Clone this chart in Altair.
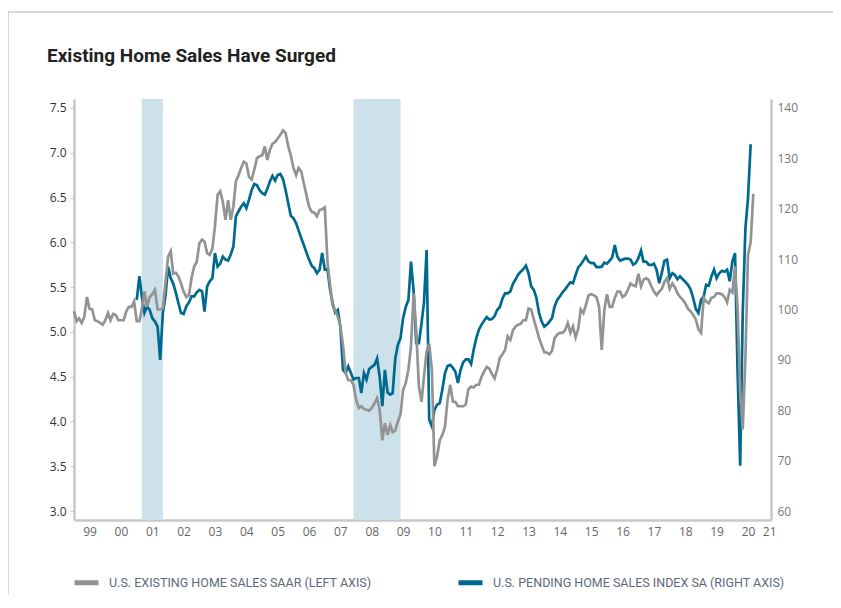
import altair as alt
import pandas as pd

EXISTING = "U.S. EXISTING HOME SALES SAAR (LEFT AXIS)"
PENDING = "U.S. PENDING HOME SALES INDEX SA (RIGHT AXIS)"
TITLE = "Existing Home Sales Have Surged"

# Existing home sales, SAAR, millions, monthly Jan-1999 .. Sep-2020
existing_sales = [
    5.23, 5.12, 5.15, 5.10, 5.17, 5.39, 5.26, 5.25, 5.13, 5.12, 5.10, 5.08,  # 1999
    5.13, 5.21, 5.13, 5.20, 5.19, 5.13, 5.13, 5.13, 5.23, 5.28, 5.28, 5.34,  # 2000
    5.12, 5.12, 5.25, 5.45, 5.28, 5.39, 5.42, 5.47, 5.25, 5.25, 5.26, 5.54,  # 2001
    5.84, 5.90, 5.65, 5.66, 5.62, 5.54, 5.45, 5.39, 5.41, 5.60, 5.73, 5.78,  # 2002
    5.99, 6.03, 6.01, 5.88, 5.86, 5.93, 6.18, 6.53, 6.57, 6.45, 6.25, 6.47,  # 2003
    6.25, 6.40, 6.68, 6.75, 6.83, 6.90, 6.88, 6.73, 6.70, 6.81, 6.94, 6.96,  # 2004
    6.97, 7.07, 6.92, 7.03, 7.10, 7.12, 7.16, 7.20, 7.25, 7.22, 7.07, 6.97,  # 2005
    6.83, 6.75, 6.83, 6.79, 6.66, 6.53, 6.40, 6.34, 6.33, 6.29, 6.36, 6.37,  # 2006
    6.39, 5.78, 5.54, 5.30, 5.24, 5.17, 5.06, 4.85, 4.54, 4.46, 4.46, 4.41,  # 2007
    4.24, 4.15, 4.17, 4.14, 4.13, 4.12, 4.15, 4.20, 4.26, 4.13, 3.79, 3.98,  # 2008
    3.85, 3.96, 3.88, 3.90, 4.00, 4.08, 4.35, 4.43, 4.58, 4.84, 5.43, 5.02,  # 2009
    4.39, 4.22, 4.50, 4.78, 4.87, 4.58, 3.50, 3.61, 3.79, 3.85, 3.94, 4.24,  # 2010
    4.41, 4.22, 4.22, 4.17, 4.17, 4.17, 4.19, 4.36, 4.39, 4.38, 4.41, 4.41,  # 2011
    4.50, 4.56, 4.61, 4.59, 4.53, 4.48, 4.58, 4.71, 4.75, 4.80, 4.95, 4.91,  # 2012
    5.02, 5.06, 5.08, 5.09, 5.13, 5.13, 5.26, 5.25, 5.14, 5.04, 4.93, 4.85,  # 2013
    4.77, 4.77, 4.75, 4.79, 4.93, 4.97, 4.99, 4.99, 5.02, 5.10, 4.99, 5.06,  # 2014
    4.94, 5.04, 5.25, 5.21, 5.30, 5.41, 5.42, 5.41, 5.39, 5.28, 4.80, 5.24,  # 2015
    5.42, 5.28, 5.28, 5.38, 5.45, 5.45, 5.39, 5.41, 5.47, 5.54, 5.52, 5.51,  # 2016
    5.65, 5.51, 5.58, 5.60, 5.58, 5.51, 5.45, 5.41, 5.45, 5.48, 5.56, 5.60,  # 2017
    5.48, 5.54, 5.50, 5.43, 5.39, 5.36, 5.32, 5.26, 5.23, 5.19, 5.14, 5.03,  # 2018
    4.99, 5.38, 5.34, 5.32, 5.38, 5.39, 5.43, 5.43, 5.42, 5.39, 5.33, 5.47,  # 2019
    5.44, 5.73, 5.28, 4.33, 3.91, 4.72, 5.86, 6.00, 6.54,                    # 2020
]

# Pending home sales index, SA, monthly Jan-2001 .. Aug-2020
pending_index = [
    101.9, 106.6, 102.6, 99.3, 100.6, 99.9, 98.3, 97.6, 96.6, 90.0, 99.3, 102.6,          # 2001
    108.5, 106.2, 105.2, 103.4, 101.3, 99.3, 99.1, 100.6, 101.4, 102.6, 102.6, 103.4,     # 2002
    103.9, 103.6, 99.6, 104.6, 105.6, 106.2, 111.2, 108.5, 109.1, 110.5, 109.9, 109.7,    # 2003
    110.9, 112.5, 118.5, 119.5, 120.4, 121.1, 120.1, 121.8, 123.7, 124.9, 124.7, 123.7,   # 2004
    123.1, 122.8, 123.9, 125.4, 126.5, 125.6, 126.7, 126.9, 125.9, 123.7, 121.1, 118.6,   # 2005
    118.1, 117.1, 115.7, 114.2, 112.8, 111.3, 109.9, 108.7, 108.2, 107.2, 107.9, 111.2,   # 2006
    107.9, 108.0, 104.2, 101.3, 99.4, 99.9, 96.6, 88.0, 87.4, 88.7, 87.4, 86.1,           # 2007
    86.4, 86.4, 83.4, 87.4, 86.1, 88.2, 88.6, 89.0, 90.3, 86.7, 80.8, 88.0,               # 2008
    83.5, 83.1, 83.4, 90.3, 93.0, 94.3, 98.3, 100.5, 101.9, 109.5, 103.6, 93.3,           # 2009
    93.3, 97.3, 101.3, 111.8, 78.1, 76.8, 80.1, 81.1, 81.4, 84.1, 87.4, 88.8,             # 2010
    89.0, 88.4, 87.7, 85.4, 88.0, 89.5, 90.1, 90.1, 89.2, 92.0, 94.3, 96.0,               # 2011
    97.0, 97.8, 98.5, 98.0, 98.1, 98.7, 99.9, 100.5, 102.2, 103.2, 103.2, 103.6,          # 2012
    105.1, 106.0, 106.9, 107.5, 108.0, 108.7, 107.2, 104.6, 103.9, 102.3, 99.3, 97.6,     # 2013
    96.6, 97.0, 97.6, 98.3, 100.6, 101.9, 102.6, 103.4, 104.0, 104.7, 105.4, 105.2,       # 2014
    106.9, 108.4, 108.9, 109.7, 110.5, 109.5, 109.2, 109.2, 108.4, 108.4, 108.5, 109.3,   # 2015
    109.1, 109.7, 110.3, 112.8, 110.5, 109.7, 109.9, 110.1, 110.1, 109.9, 108.9, 109.2,   # 2016
    110.2, 111.7, 109.5, 109.5, 108.9, 108.8, 109.1, 107.9, 105.2, 107.3, 109.7, 109.9,   # 2017
    106.2, 107.2, 106.9, 106.0, 106.6, 106.0, 105.5, 104.9, 104.0, 102.3, 100.1, 99.3,    # 2018
    101.9, 102.6, 104.9, 104.7, 106.5, 107.9, 106.2, 107.2, 107.7, 107.5, 107.9, 105.6,   # 2019
    109.5, 111.2, 88.2, 69.0, 99.6, 116.1, 122.1, 132.8,                                  # 2020
]

recession_start = ["2001-03-01", "2007-12-01"]
recession_end = ["2001-11-01", "2009-06-01"]

left_ticks = [3.0, 3.5, 4.0, 4.5, 5.0, 5.5, 6.0, 6.5, 7.0, 7.5]
right_ticks = [60, 70, 80, 90, 100, 110, 120, 130, 140]
label_years = list(range(1999, 2021))

GRAY = "#939393"
BLUE = "#00698f"
SHADE = "#cde1ea"
TICKFONT = "Open Sans"

ex_df = pd.DataFrame({
    "date": pd.date_range("1999-01-01", periods=len(existing_sales), freq="MS"),
    "value": existing_sales,
    "series": EXISTING,
})
pe_df = pd.DataFrame({
    "date": pd.date_range("2001-01-01", periods=len(pending_index), freq="MS"),
    "value": pending_index,
    "series": PENDING,
})
rec_df = pd.DataFrame({"start": pd.to_datetime(recession_start), "end": pd.to_datetime(recession_end)})
title_df = pd.DataFrame({"text": [TITLE]})

tick_dates = [alt.DateTime(year=y, month=7, date=1) for y in label_years] + [alt.DateTime(year=2021, month=3, date=5)]

x_scale = alt.Scale(domain=[alt.DateTime(year=1999, month=1, date=1), alt.DateTime(year=2021, month=3, date=26)])
x_axis = alt.Axis(
    values=tick_dates, format="%y", title=None, ticks=False, grid=False,
    domainColor="#c8c8c8", domainWidth=2.5, labelColor="#666666", labelFont=TICKFONT,
    labelFontSize=12, labelPadding=6, labelFlush=False, labelOverlap=False, labelBound=False,
)

color_scale = alt.Scale(domain=[EXISTING, PENDING], range=[GRAY, BLUE])
legend = alt.Legend(
    orient="none", legendX=-2, legendY=469, direction="horizontal", title=None,
    symbolType="stroke", symbolStrokeWidth=5, symbolSize=576, labelFont="Roboto",
    labelFontSize=12.5, labelColor="#5a6b7b", labelOffset=8, columnPadding=76, labelLimit=400,
)

rec = alt.Chart(rec_df).mark_rect(color=SHADE).encode(
    x=alt.X("start:T", scale=x_scale, axis=x_axis),
    x2="end:T",
)

gray = alt.Chart(ex_df).mark_line(strokeWidth=2.7, strokeJoin="miter").encode(
    x=alt.X("date:T", scale=x_scale, axis=x_axis),
    y=alt.Y("value:Q", scale=alt.Scale(domain=[2.9, 7.6], nice=False, zero=False),
            axis=alt.Axis(values=left_ticks, format=".1f", title=None, grid=False, orient="left",
                          domainColor="#c8c8c8", domainWidth=2.5, tickColor="#c8c8c8", tickSize=4,
                          labelColor="#333333", labelFont=TICKFONT, labelFontSize=12, labelPadding=4)),
    color=alt.Color("series:N", scale=color_scale, legend=legend),
)

blue = alt.Chart(pe_df).mark_line(strokeWidth=2.7, strokeJoin="miter").encode(
    x=alt.X("date:T", scale=x_scale, axis=x_axis),
    y=alt.Y("value:Q", scale=alt.Scale(domain=[58.22, 141.78], nice=False, zero=False),
            axis=alt.Axis(values=right_ticks, title=None, grid=False, orient="right",
                          domainColor="#c8c8c8", domainWidth=2.5, ticks=False,
                          labelColor="#777777", labelFont=TICKFONT, labelFontSize=12, labelPadding=6)),
    color=alt.Color("series:N", scale=color_scale, legend=legend),
)

frame = alt.Chart(title_df).mark_rect(fill=None, stroke="#cccccc", strokeWidth=1.5).encode(
    x=alt.value(-66), x2=alt.value(900), y=alt.value(-87), y2=alt.value(700),
)

title = alt.Chart(title_df).mark_text(
    align="left", baseline="alphabetic", font="Roboto", fontSize=19, fontWeight="bold", color="#222222",
).encode(x=alt.value(-27), y=alt.value(-37), text="text:N")

chart = alt.layer(frame, title, rec, blue, gray).resolve_scale(y="independent").properties(
    width=697, height=421,
    autosize=alt.AutoSizeParams(type="none"),
    padding={"left": 66, "top": 91, "right": 62, "bottom": 75},
).configure_view(stroke=None)

chart.save("out.html", embed_options={"renderer": "svg", "actions": False})
